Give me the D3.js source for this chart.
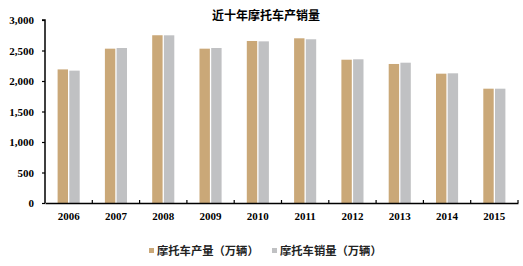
<!DOCTYPE html>
<html>
<head>
<meta charset="utf-8">
<style>
body { margin: 0; background: #fff; }
.tick text { font: bold 11px "Liberation Serif", serif; fill: #000; }
.title { font: bold 12px "Noto Sans CJK SC", sans-serif; fill: #000; }
.legend text { font: bold 11.3px "Noto Sans CJK SC", sans-serif; fill: #222; }
</style>
</head>
<body>
<script src="https://cdnjs.cloudflare.com/ajax/libs/d3/7.8.5/d3.min.js"></script>
<script>
var years = ["2006","2007","2008","2009","2010","2011","2012","2013","2014","2015"];
var production = [2190, 2530, 2750, 2530, 2656, 2700, 2349, 2279, 2120, 1874];
var sales = [2170, 2541, 2749, 2541, 2650, 2684, 2356, 2300, 2126, 1874];
var seriesNames = ["摩托车产量（万辆）", "摩托车销量（万辆）"];
var colors = ["#CAA878", "#C0C1C3"];
var yTicks = [0, 500, 1000, 1500, 2000, 2500, 3000];

var width = 523, height = 266;
var margin = {left: 45, right: 5, top: 20, bottom: 63};

var svg = d3.select("body").append("svg")
    .attr("width", width)
    .attr("height", height);

var x = d3.scaleBand()
    .domain(years)
    .range([margin.left, width - margin.right]);

var y = d3.scaleLinear()
    .domain([0, 3000])
    .range([height - margin.bottom, margin.top]);

var barW = 10.4, gap = 1.3;

// bars
var series = [production, sales];
series.forEach(function(vals, i) {
  svg.append("g")
    .selectAll("rect")
    .data(vals)
    .enter().append("rect")
    .attr("x", function(d, j) {
      var c = x(years[j]) + x.bandwidth() / 2;
      return i === 0 ? c - gap / 2 - barW : c + gap / 2;
    })
    .attr("y", function(d) { return y(d); })
    .attr("width", barW)
    .attr("height", function(d) { return y(0) - y(d); })
    .style("fill", colors[i]);
});

// y axis
var yAxis = svg.append("g")
    .attr("transform", "translate(" + margin.left + ",0)")
    .call(d3.axisLeft(y).tickValues(yTicks).tickFormat(d3.format(",")).tickSize(3).tickPadding(8));
yAxis.select(".domain").attr("stroke", "#000").attr("stroke-width", 1.5).attr("d", "M-3," + y(3000) + "H0V" + y(0));
yAxis.selectAll(".tick line").attr("stroke", "#000").attr("stroke-width", 1.2);

// x axis
var xAxis = svg.append("g")
    .attr("transform", "translate(0," + y(0) + ")")
    .call(d3.axisBottom(x).tickSize(0).tickPadding(9));
xAxis.select(".domain").attr("stroke", "#000").attr("stroke-width", 1.5);
xAxis.selectAll(".tick text").attr("dy", "0.71em");

// boundary ticks on x axis
svg.append("g")
  .selectAll("line")
  .data(years.slice(1).concat(["end"]))
  .enter().append("line")
  .attr("x1", function(d) { return d === "end" ? x.range()[1] : x(d); })
  .attr("x2", function(d) { return d === "end" ? x.range()[1] : x(d); })
  .attr("y1", y(0) - 3)
  .attr("y2", y(0))
  .attr("stroke", "#000")
  .attr("stroke-width", 1.2);

// title
svg.append("text")
    .attr("class", "title")
    .attr("x", 266)
    .attr("y", 20)
    .attr("text-anchor", "middle")
    .text("近十年摩托车产销量");

// legend
var legendX = [149, 272];
var legend = svg.append("g").attr("class", "legend");
seriesNames.forEach(function(name, i) {
  legend.append("rect")
    .attr("x", legendX[i])
    .attr("y", 248)
    .attr("width", 5)
    .attr("height", 5)
    .style("fill", colors[i]);
  legend.append("text")
    .attr("x", legendX[i] + 8)
    .attr("y", 255)
    .text(name);
});
</script>
</body>
</html>
